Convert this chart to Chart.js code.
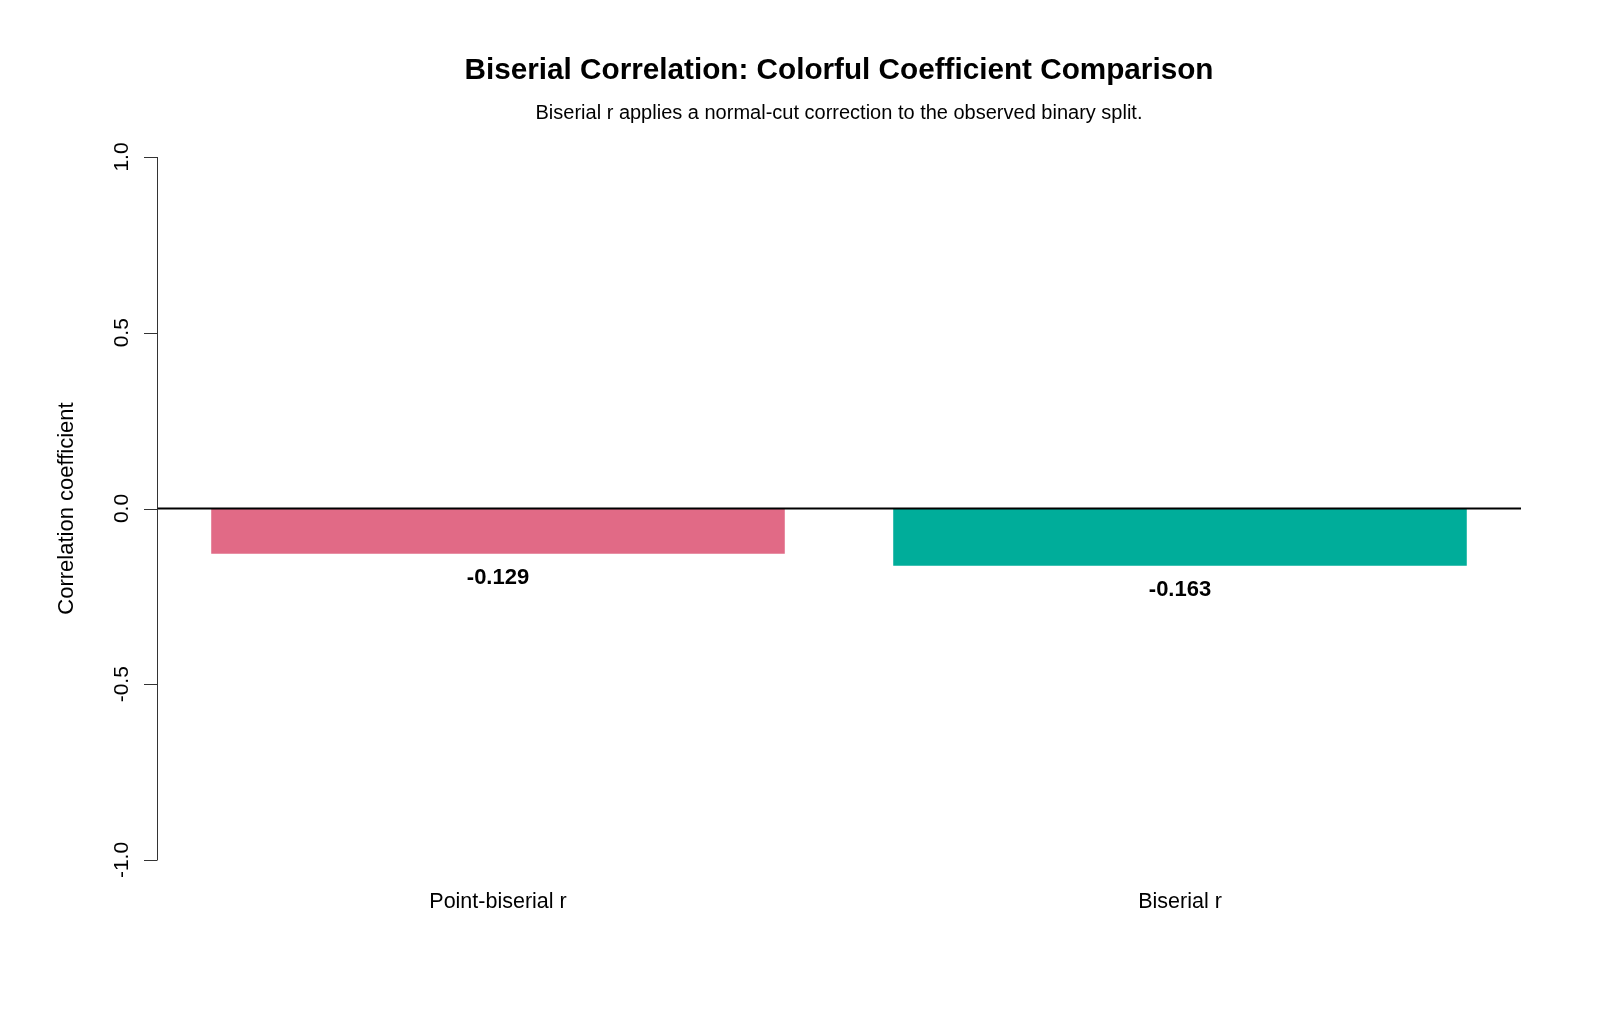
<!DOCTYPE html>
<html>
<head>
<meta charset="utf-8">
<script src="https://cdn.jsdelivr.net/npm/chart.js@4"></script>
<style>
  html, body { margin: 0; padding: 0; background: #ffffff; }
  #wrap { width: 1600px; height: 1018px; }
</style>
</head>
<body>
<div id="wrap"><canvas id="corrChart" width="1600" height="1018"></canvas></div>
<script>
const categories = ['Point-biserial r', 'Biserial r'];
const coefficients = [-0.129, -0.163];
const barColors = ['#E16A86', '#00AD9A'];
const yTicks = [-1.0, -0.5, 0.0, 0.5, 1.0];

const titleText = 'Biserial Correlation: Colorful Coefficient Comparison';
const subtitleText = 'Biserial r applies a normal-cut correction to the observed binary split.';
const yTitle = 'Correlation coefficient';

const FONT = '"Liberation Sans", Arial, sans-serif';

// R style axes, titles and value labels drawn on top of the bars
const baseAxes = {
    id: 'baseAxes',
    afterDatasetsDraw(chart) {
        const ctx = chart.ctx;
        const area = chart.chartArea;
        const x = chart.scales.x;
        const y = chart.scales.y;
        const midX = (area.left + area.right) / 2;

        ctx.save();
        ctx.fillStyle = '#000';

        // title + subtitle
        ctx.textAlign = 'center';
        ctx.textBaseline = 'alphabetic';
        ctx.font = 'bold 29.7px ' + FONT;
        ctx.fillText(titleText, midX, 79);
        ctx.font = '20px ' + FONT;
        ctx.fillText(subtitleText, midX, 119);

        // zero reference line
        const y0 = y.getPixelForValue(0);
        ctx.strokeStyle = '#000';
        ctx.lineWidth = 2;
        ctx.beginPath();
        ctx.moveTo(area.left, y0);
        ctx.lineTo(area.right, y0);
        ctx.stroke();

        // y axis line + ticks
        ctx.strokeStyle = '#333';
        ctx.lineWidth = 1;
        const top = y.getPixelForValue(yTicks[yTicks.length - 1]);
        const bot = y.getPixelForValue(yTicks[0]);
        ctx.beginPath();
        ctx.moveTo(area.left + 0.5, top);
        ctx.lineTo(area.left + 0.5, bot);
        yTicks.forEach(v => {
            const py = Math.round(y.getPixelForValue(v)) + 0.5;
            ctx.moveTo(area.left + 0.5, py);
            ctx.lineTo(area.left - 13, py);
        });
        ctx.stroke();

        ctx.font = '21px ' + FONT;
        ctx.textAlign = 'center';
        yTicks.forEach(v => {
            ctx.save();
            ctx.translate(area.left - 29, y.getPixelForValue(v));
            ctx.rotate(-Math.PI / 2);
            ctx.fillText(v.toFixed(1), 0, 0);
            ctx.restore();
        });

        // y axis title
        ctx.font = '22px ' + FONT;
        ctx.save();
        ctx.translate(73, (area.top + area.bottom) / 2);
        ctx.rotate(-Math.PI / 2);
        ctx.fillText(yTitle, 0, 0);
        ctx.restore();

        // category labels
        ctx.font = '21.5px ' + FONT;
        categories.forEach((c, i) => {
            ctx.fillText(c, x.getPixelForValue(i), 908);
        });

        // value labels under each bar
        ctx.font = 'bold 22px ' + FONT;
        const meta = chart.getDatasetMeta(0);
        meta.data.forEach((bar, i) => {
            ctx.fillText(coefficients[i].toFixed(3), bar.x, bar.y + 30);
        });

        ctx.restore();
    }
};

const ctx = document.getElementById('corrChart').getContext('2d');
new Chart(ctx, {
    type: 'bar',
    data: {
        labels: categories,
        datasets: [{
            data: coefficients,
            backgroundColor: barColors,
            borderWidth: 0,
            categoryPercentage: 1.0,
            barPercentage: 0.841
        }]
    },
    options: {
        responsive: false,
        animation: false,
        layout: { padding: { left: 157, right: 79, top: 157, bottom: 158 } },
        plugins: {
            legend: { display: false },
            tooltip: { enabled: false }
        },
        scales: {
            x: { display: false },
            y: { display: false, min: -1, max: 1 }
        }
    },
    plugins: [baseAxes]
});
</script>
</body>
</html>
